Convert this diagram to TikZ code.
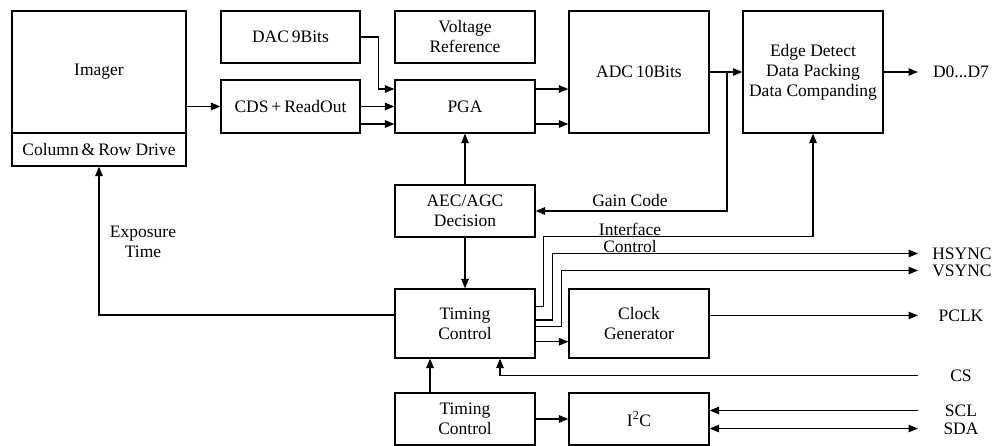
\documentclass[tikz,border=0pt]{standalone}
\usepackage{fontspec}
\setmainfont{Liberation Serif}
\usetikzlibrary{arrows.meta}
\begin{document}
\begin{tikzpicture}[x=1pt,y=-1pt,
  txt/.style={font=\rmfamily\fontsize{17.5}{20}\selectfont},
  blk/.style={draw, line width=1.2pt, inner sep=0pt, align=center, txt},
  lbl/.style={inner sep=0pt, align=center, txt},
  tip/.tip={Triangle[length=9.5pt,width=7.5pt]},
  ln/.style={line width=1.2pt},
  arr/.style={ln, -tip}]
\useasboundingbox (0,0) rectangle (995,446);
% blocks
\node[blk, minimum width=174pt, minimum height=122pt] (imager) at (99,72) {Imager};
\node[blk, minimum width=174pt, minimum height=33pt] (crd) at (99,149.5) {Column\,\&\,Row Drive};
\node[blk, minimum width=139pt, minimum height=52pt] (dac) at (290.5,37) {DAC\,9Bits};
\node[blk, minimum width=139pt, minimum height=53pt] (cds) at (290.5,106.5) {CDS\,+\,ReadOut};
\node[blk, minimum width=140pt, minimum height=52pt] (vref) at (465,37) {Voltage\\Reference};
\node[blk, minimum width=140pt, minimum height=53pt] (pga) at (465,106.5) {PGA};
\node[blk, minimum width=140pt, minimum height=122pt] (adc) at (639,72) {ADC\,10Bits};
\node[blk, minimum width=140pt, minimum height=122pt] (edge) at (813,72) {Edge Detect\\Data Packing\\Data Companding};
\node[blk, minimum width=140pt, minimum height=52pt] (aec) at (465,211) {AEC/AGC\\Decision};
\node[blk, minimum width=140pt, minimum height=69pt] (tc) at (465,323.5) {Timing\\Control};
\node[blk, minimum width=140pt, minimum height=69pt] (clk) at (639,323.5) {Clock\\Generator};
\node[blk, minimum width=140pt, minimum height=52pt] (tc2) at (465,419) {Timing\\Control};
\node[blk, minimum width=140pt, minimum height=52pt] (i2c) at (639,419) {I\textsuperscript{2}C};
% output labels
\node[lbl] (d07) at (961,72) {D0...D7};
\node[lbl] (hsync) at (962,253.5) {HSYNC};
\node[lbl] (vsync) at (962,270.5) {VSYNC};
\node[lbl] (pclk) at (961,315.5) {PCLK};
\node[lbl] (cs) at (961,375.5) {CS};
\node[lbl] (scl) at (961,410.5) {SCL};
\node[lbl] (sda) at (961,428.5) {SDA};
\coordinate (xo) at (918,0);
\coordinate (br) at (727,72);
% other labels
\node[lbl] (gain) at (630,201) {Gain Code};
\node[lbl, font=\rmfamily\fontsize{17.5}{17}\selectfont] (ifc) at (630,237.5) {Interface\\Control};
\node[lbl] (expo) at (143,241.5) {Exposure\\Time};
% connectors
\draw[arr] (imager.east |- cds.west) -- (cds.west);
\draw[arr] (dac.east) -- ++(18,0) |- ([yshift=17.5pt]pga.west);
\draw[arr] (cds.east) -- (pga.west);
\draw[arr] ([yshift=-17.5pt]cds.east) -- ([yshift=-17.5pt]pga.west);
\draw[arr] ([yshift=17.5pt]pga.east) -- ([yshift=-17pt]adc.west);
\draw[arr] ([yshift=-17.5pt]pga.east) -- ([yshift=-52pt]adc.west);
\draw[arr] (adc.east) -- (edge.west);
\draw[arr] (br) |- (aec.east);
\draw[arr] (edge.east) -- (xo |- d07);
\draw[arr] (aec.north) -- (pga.south);
\draw[arr] (aec.south) -- (tc.north);
\draw[arr] ([yshift=16.8pt]tc.east) -- ++(8,0) -- ++(0,-70) -| (edge.south);
\draw[arr] ([yshift=3.5pt]tc.east) -- ++(16.7,0) |- (xo |- hsync);
\draw[arr] ([yshift=-3.2pt]tc.east) -- ++(25.7,0) |- (xo |- vsync);
\draw[arr] ([yshift=-18.2pt]tc.east) -- ([yshift=-18.2pt]clk.west);
\draw[arr] ([yshift=8pt]clk.east) -- (xo |- pclk);
\draw[arr] ([yshift=8.5pt]tc.west) -| (crd.south);
\draw[arr] (xo |- cs) -| ([xshift=35pt]tc.south);
\draw[arr] ([xshift=-35pt]tc2.north) -- ([xshift=-35pt]tc.south);
\draw[arr] (tc2.east) -- (i2c.west);
\draw[arr] (xo |- scl) -- (i2c.east |- scl);
\draw[ln, tip-tip] (xo |- sda) -- (i2c.east |- sda);
\end{tikzpicture}
\end{document}
